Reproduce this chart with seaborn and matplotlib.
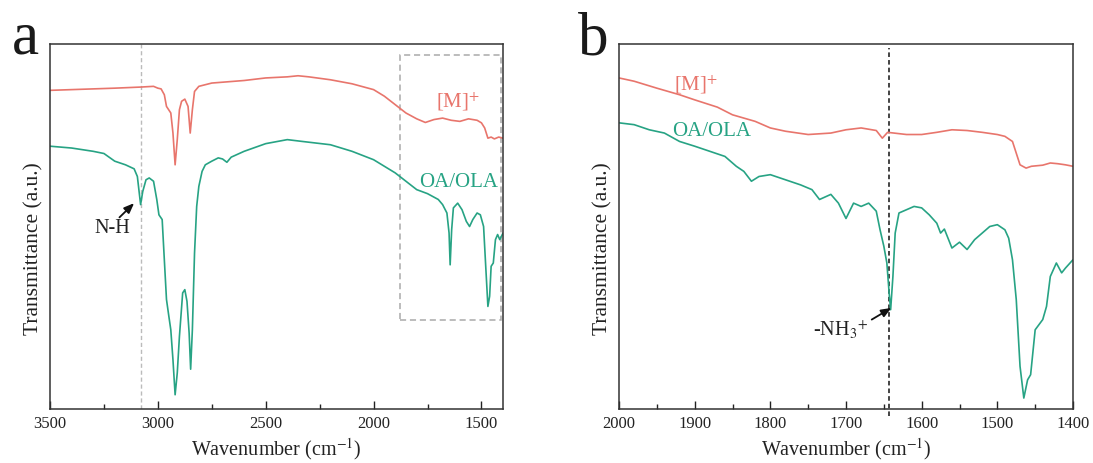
import numpy as np
import pandas as pd
import matplotlib
matplotlib.use("Agg")
import matplotlib.pyplot as plt
from matplotlib.patches import Rectangle
from matplotlib.ticker import MultipleLocator
import seaborn as sns

# ---------------- data (arbitrary transmittance units) -------------
# Panel a: full range 3500-1400 cm-1
wn_red_a = [3500, 3300, 3200, 3080, 3020, 3000, 2985, 2970, 2960, 2950, 2940, 2930, 2920,
            2910, 2900, 2890, 2875, 2860, 2850, 2840, 2830, 2810, 2750, 2600, 2500, 2400,
            2350, 2300, 2200, 2100, 2000, 1950, 1900, 1850, 1800, 1760, 1720, 1680, 1640,
            1600, 1560, 1520, 1500, 1485, 1470, 1455, 1440, 1420, 1400]
t_red_a = [87.3, 87.7, 87.9, 88.2, 88.4, 87.9, 87.7, 86.1, 82.9, 82.0, 81.1, 75.6, 66.9,
           73.8, 82.0, 84.3, 84.9, 82.9, 75.6, 82.0, 87.0, 88.4, 89.3, 90.0, 90.7, 91.0,
           91.3, 91.0, 90.2, 89.1, 87.5, 85.7, 83.4, 81.1, 79.5, 78.5, 79.3, 79.7, 79.1,
           78.8, 79.5, 79.1, 78.4, 77.0, 74.2, 74.5, 74.0, 74.5, 74.2]

wn_green_a = [3500, 3400, 3300, 3250, 3200, 3150, 3110, 3095, 3080, 3070, 3055, 3040, 3020,
              3005, 2995, 2980, 2970, 2960, 2950, 2940, 2930, 2920, 2910, 2900, 2885, 2875,
              2865, 2855, 2848, 2840, 2830, 2820, 2810, 2795, 2780, 2750, 2720, 2700, 2680,
              2660, 2600, 2500, 2400, 2330, 2200, 2100, 2000, 1900, 1850, 1800, 1750, 1700,
              1680, 1660, 1650, 1645, 1638, 1630, 1610, 1590, 1570, 1555, 1540, 1520, 1505,
              1490, 1480, 1470, 1462, 1455, 1445, 1435, 1425, 1415, 1400]
t_green_a = [72.0, 71.5, 70.6, 70.0, 67.9, 66.9, 65.8, 63.7, 56.0, 59.6, 62.8, 63.3, 62.4,
             57.4, 53.2, 51.9, 40.9, 30.0, 25.8, 21.7, 13.5, 3.9, 9.9, 19.9, 31.8, 32.7,
             29.5, 20.8, 10.9, 21.7, 42.7, 55.5, 61.0, 65.1, 66.9, 67.9, 68.8, 68.5, 67.6,
             69.0, 70.6, 72.7, 73.8, 73.3, 72.4, 70.6, 68.3, 64.7, 62.4, 60.1, 59.0, 57.4,
             56.0, 53.7, 48.2, 39.5, 49.1, 55.1, 56.4, 54.6, 51.4, 50.0, 51.9, 53.7, 53.2,
             50.0, 39.0, 28.1, 30.9, 39.1, 40.0, 46.4, 47.8, 46.4, 48.2]

# Panel b: zoom 2000-1400 cm-1
wn_red_b = [2000, 1980, 1950, 1920, 1900, 1870, 1850, 1820, 1800, 1780, 1750, 1720, 1700,
            1680, 1660, 1652, 1645, 1620, 1600, 1580, 1560, 1540, 1520, 1500, 1490, 1480,
            1475, 1470, 1462, 1455, 1440, 1430, 1420, 1410, 1400]
t_red_b = [90.7, 89.8, 87.9, 86.1, 84.7, 82.7, 80.6, 78.8, 77.0, 76.1, 75.2, 75.6, 76.5,
           77.0, 76.3, 74.2, 75.8, 75.2, 75.2, 75.8, 76.5, 76.3, 75.8, 75.2, 74.7, 73.3,
           70.1, 66.9, 66.0, 66.5, 66.8, 67.4, 67.2, 66.9, 66.5]

wn_green_b = [2000, 1980, 1960, 1940, 1920, 1900, 1880, 1860, 1845, 1835, 1825, 1815, 1800,
              1780, 1760, 1745, 1735, 1720, 1710, 1700, 1690, 1680, 1670, 1660, 1655, 1650,
              1646, 1643, 1641, 1638, 1635, 1630, 1620, 1610, 1600, 1590, 1580, 1575, 1570,
              1560, 1550, 1540, 1530, 1520, 1510, 1500, 1490, 1485, 1480, 1475, 1470, 1465,
              1460, 1456, 1450, 1440, 1435, 1430, 1422, 1415, 1410, 1400]
t_green_b = [78.4, 77.9, 76.5, 75.6, 73.3, 72.0, 70.6, 69.2, 66.5, 65.1, 62.4, 63.7, 64.2,
             62.8, 61.4, 60.1, 57.4, 58.8, 56.4, 52.2, 56.4, 55.5, 56.4, 54.2, 49.1, 44.6,
             40.0, 31.8, 27.2, 36.3, 48.2, 53.7, 54.6, 55.5, 55.1, 53.2, 50.9, 48.2, 49.3,
             44.1, 45.7, 43.7, 46.4, 48.2, 50.0, 50.5, 49.1, 46.8, 40.9, 30.0, 11.7, 3.0,
             8.0, 9.4, 21.7, 24.5, 28.1, 36.3, 40.0, 37.3, 38.6, 40.9]

series_names = ["[M]$^{+}$", "OA/OLA"]
xticks_a = [3500, 3000, 2500, 2000, 1500]
xticks_b = [2000, 1900, 1800, 1700, 1600, 1500, 1400]
nh_line = 3077
nh3_line = 1643

RED = "#E8756C"
GREEN = "#27A384"

sns.set_theme(style="ticks")
plt.rcParams["font.family"] = ["Liberation Serif", "DejaVu Serif"]
plt.rcParams["mathtext.fontset"] = "stix"

fig = plt.figure(figsize=(10.93, 4.63), dpi=100)
ax_a = fig.add_axes([50 / 1093, 1 - 409 / 463, 453 / 1093, 365 / 463])
ax_b = fig.add_axes([619 / 1093, 1 - 409 / 463, 454 / 1093, 365 / 463])

def make_df(wr, tr, wg, tg):
    return pd.concat([
        pd.DataFrame({"wn": wr, "T": tr, "s": series_names[0]}),
        pd.DataFrame({"wn": wg, "T": tg, "s": series_names[1]}),
    ])

df_a = make_df(wn_red_a, t_red_a, wn_green_a, t_green_a)
df_b = make_df(wn_red_b, t_red_b, wn_green_b, t_green_b)
pal = {series_names[0]: RED, series_names[1]: GREEN}

for ax, df in ((ax_a, df_a), (ax_b, df_b)):
    sns.lineplot(data=df, x="wn", y="T", hue="s", palette=pal, ax=ax,
                 legend=False, lw=1.2, sort=False, estimator=None)
    ax.set_ylim(0, 100)
    ax.set_yticks([])
    ax.set_ylabel("Transmittance (a.u.)", fontsize=15.5, color="#222222", labelpad=5)
    ax.yaxis.label.set_y(0.44)
    ax.set_xlabel("Wavenumber (cm$^{-1}$)", fontsize=14.5, color="#222222", labelpad=3)
    for sp in ax.spines.values():
        sp.set_visible(True)
        sp.set_color("#333333")
        sp.set_linewidth(1.1)
    ax.tick_params(axis="x", which="major", direction="in", length=6, width=1.0,
                   labelsize=12, colors="#222222", pad=5)
    ax.tick_params(axis="x", which="minor", direction="in", length=3.5, width=1.0,
                   colors="#222222")

ax_a.set_xlim(3500, 1400)
ax_a.set_xticks(xticks_a)
ax_a.xaxis.set_minor_locator(MultipleLocator(250))
ax_b.set_xlim(2000, 1400)
ax_b.set_xticks(xticks_b)
ax_b.xaxis.set_minor_locator(MultipleLocator(50))

arrow_style = dict(arrowstyle="-|>,head_length=0.5,head_width=0.2",
                   color="#111111", lw=1.3, shrinkA=0, shrinkB=0)

# panel a decorations
ax_a.axvline(nh_line, color="#BBBBBB", ls=(0, (3, 2)), lw=1.0, zorder=0)
ax_a.add_patch(Rectangle((1878, 24.5), 1411 - 1878, 97.1 - 24.5, fill=False,
                         ec="#AAAAAA", ls=(0, (4, 2.5)), lw=1.1))
ax_a.text(1606, 82.7, series_names[0], color=RED, fontsize=15, ha="center", va="baseline")
ax_a.text(1606, 60.8, series_names[1], color=GREEN, fontsize=15, ha="center", va="baseline")
ax_a.text(3212, 48.2, "N-H", fontsize=14.5, color="#222222", ha="center", va="baseline")
ax_a.annotate("", xy=(3110, 56.4), xytext=(3178, 52.5), arrowprops=arrow_style)
ax_a.text(-0.084, 0.973, "a", transform=ax_a.transAxes, fontsize=44, ha="left",
          va="baseline", color="#1a1a1a")

# panel b decorations
ax_b.axvline(nh3_line, ymin=-0.02, ymax=0.99, color="#111111", ls=(0, (3, 2)), lw=1.1,
             clip_on=False, zorder=0)
ax_b.text(1898, 87.3, series_names[0], color=RED, fontsize=15, ha="center", va="baseline")
ax_b.text(1878, 74.9, series_names[1], color=GREEN, fontsize=15, ha="center", va="baseline")
ax_b.text(1744, 19.9, "-NH$_3$$^{+}$", fontsize=14.5, color="#222222", ha="left",
          va="baseline")
ax_b.annotate("", xy=(1640, 27.7), xytext=(1666, 24.5), arrowprops=arrow_style)
ax_b.text(-0.090, 0.970, "b", transform=ax_b.transAxes, fontsize=44, ha="left",
          va="baseline", color="#1a1a1a")

fig.savefig("out.png", dpi=100)
